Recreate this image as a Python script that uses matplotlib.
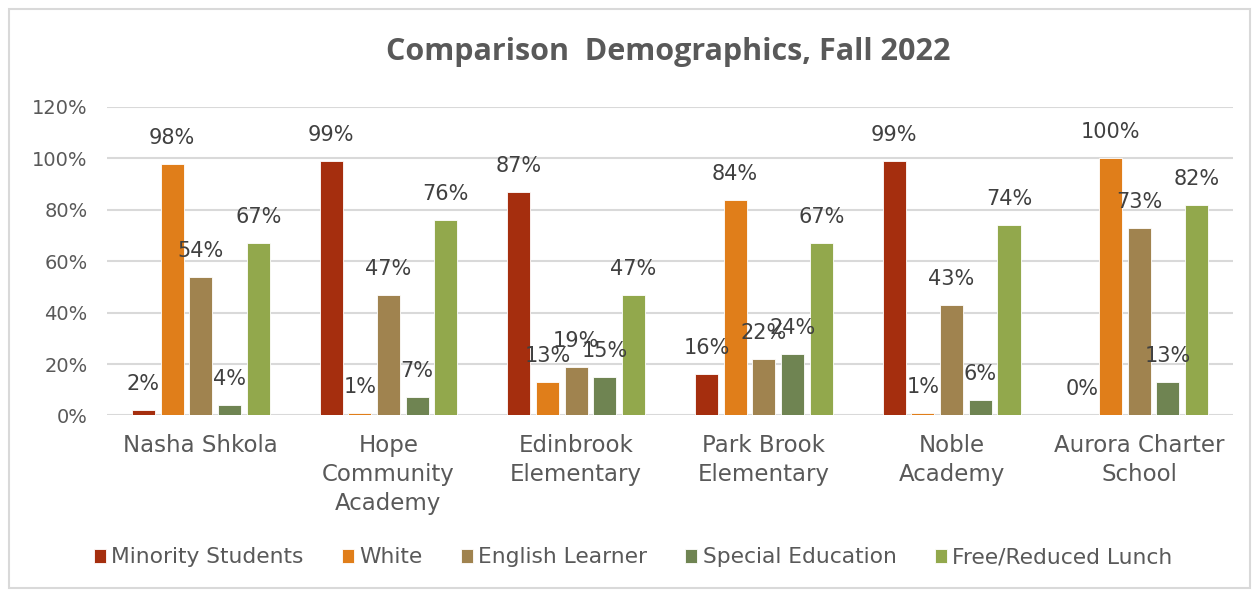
import matplotlib
matplotlib.use("Agg")
import matplotlib.pyplot as plt
import numpy as np
from matplotlib.patches import Rectangle

schools = ["Nasha Shkola", "Hope\nCommunity\nAcademy", "Edinbrook\nElementary",
           "Park Brook\nElementary", "Noble\nAcademy", "Aurora Charter\nSchool"]
series = ["Minority Students", "White", "English Learner", "Special Education", "Free/Reduced Lunch"]
minority = [2, 99, 87, 16, 99, 0]
white = [98, 1, 13, 84, 1, 100]
english = [54, 47, 19, 22, 43, 73]
special = [4, 7, 15, 24, 6, 13]
free_lunch = [67, 76, 47, 67, 74, 82]
colors = ["#A52E0E", "#E07E1A", "#A0834F", "#6F8452", "#92A84C"]
yticks = [0, 20, 40, 60, 80, 100, 120]

values = [minority, white, english, special, free_lunch]

fig = plt.figure(figsize=(12.54, 5.91), dpi=100)
fig.patches.append(Rectangle((0.007, 0.005), 0.99, 0.98, transform=fig.transFigure,
                             fill=False, edgecolor="#D9D9D9", lw=1.5))
ax = fig.add_axes([0.0853, 0.297, 0.898, 0.522])

x = np.arange(len(schools))
pitch = 0.153
width = 0.123
for i, (name, vals, c) in enumerate(zip(series, values, colors)):
    pos = x + (i - 2) * pitch
    ax.bar(pos, vals, width=width, color=c, label=name, zorder=3,
           edgecolor="white", linewidth=0.6)
    for p, v in zip(pos, vals):
        ax.annotate(f"{v}%", (p, v), xytext=(0, 26), textcoords="offset pixels",
                    ha="center", va="center", fontsize=15, color="#404040", zorder=4)

ax.set_xlim(-0.5, len(schools) - 0.5)
ax.set_ylim(0, 120)
ax.set_yticks(yticks)
ax.set_yticklabels([f"{t}%" for t in yticks], fontsize=14, color="#595959")
ax.set_xticks(x)
ax.set_xticklabels(schools, fontsize=16.5, color="#595959", linespacing=1.35)
ax.tick_params(axis="both", length=0)
ax.tick_params(axis="x", pad=13)
ax.tick_params(axis="y", pad=14)
for s in ax.spines.values():
    s.set_visible(False)
ax.yaxis.grid(True, color="#D9D9D9", lw=1.5, zorder=0)
ax.set_axisbelow(True)

fig.text(0.533, 0.912, "Comparison  Demographics, Fall 2022", ha="center", va="center",
         fontsize=22, fontweight="bold", color="#595959", family="Open Sans")

leg = fig.legend(loc="center", bbox_to_anchor=(0.505, 0.057), ncol=5, frameon=False,
                 fontsize=15.7, handlelength=0.55, handleheight=0.6, handletextpad=0.25,
                 columnspacing=1.75)
for t in leg.get_texts():
    t.set_color("#595959")

fig.savefig("out.png", dpi=100)
